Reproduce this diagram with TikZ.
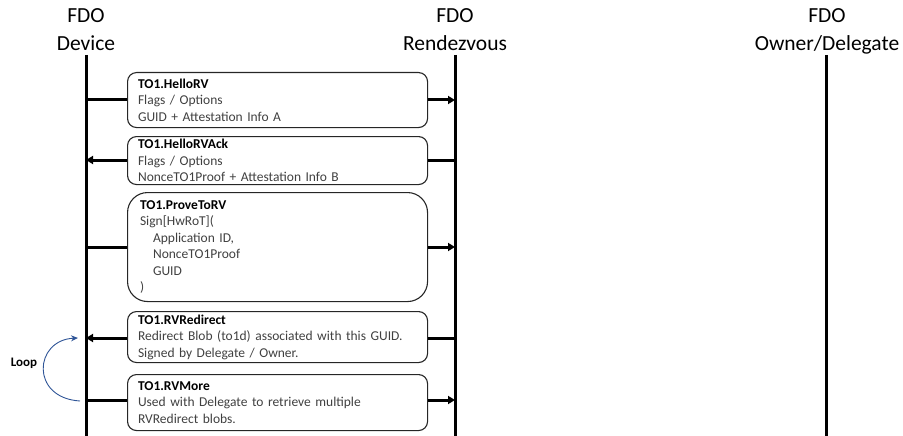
\documentclass[tikz,border=0pt]{standalone}
\usepackage{fontspec}
\setmainfont{Carlito}
\usetikzlibrary{arrows.meta}
\definecolor{bodytxt}{HTML}{404040}
\definecolor{loopblue}{HTML}{2F5597}
\begin{document}
\begin{tikzpicture}[x=1pt,y=-1pt,
  hdr/.style={align=center,anchor=north,inner sep=0pt,font=\fontsize{21.5}{28}\selectfont},
  life/.style={line width=3pt},
  msg/.style={draw=black!85,line width=1.1pt,rounded corners=9pt,
    minimum width=300pt,anchor=north west,text width=279pt,align=left,
    inner xsep=10.5pt,inner ysep=0pt,text=bodytxt,
    font=\fontsize{13.5}{16.5}\selectfont},
  flow/.style={line width=3pt,-{Triangle[length=7pt,width=8pt]}},
  plain/.style={line width=3pt}]
\useasboundingbox (0,0) rectangle (903,436);

% participants
\node[hdr] (dev) at (86,3) {FDO\strut\\Device\strut};
\node[hdr] (rv)  at (455,3) {FDO\strut\\Rendezvous\strut};
\node[hdr] (own) at (827,3) {FDO\strut\\Owner/Delegate\strut};

\coordinate (devT) at (86,55);  \coordinate (devB) at (86,436);
\coordinate (rvT)  at (455,55); \coordinate (rvB)  at (455,436);
\coordinate (ownT) at (826,55); \coordinate (ownB) at (826,436);
\draw[life] (devT) -- (devB);
\draw[life] (rvT) -- (rvB);
\draw[life] (ownT) -- (ownB);

% messages
\node[msg,minimum height=55pt] (m1) at (127,72)
  {\textcolor{black}{\textbf{TO1.HelloRV}}\\Flags / Options\\GUID + Attestation Info A};
\node[msg,minimum height=48pt] (m2) at (127,136)
  {\textcolor{black}{\textbf{TO1.HelloRVAck}}\\Flags / Options\\NonceTO1Proof + Attestation Info B};
\node[msg,minimum height=109pt,rounded corners=20pt] (m3) at (127,192)
  {\textcolor{black}{\textbf{\hspace*{2pt}TO1.ProveToRV}}\\\hspace*{2pt}Sign[HwRoT](\\\hspace*{15pt}Application ID,\\\hspace*{15pt}NonceTO1Proof\\\hspace*{15pt}GUID\\\hspace*{2pt})};
\node[msg,minimum height=51pt] (m4) at (127,311)
  {\textcolor{black}{\textbf{TO1.RVRedirect}}\\Redirect Blob (to1d) associated with this GUID.\\Signed by Delegate / Owner.};
\node[msg,minimum height=56pt] (m5) at (127,374)
  {\textcolor{black}{\textbf{TO1.RVMore}}\\Used with Delegate to retrieve multiple\\RVRedirect blobs.};

% anchor points on the lifelines
\coordinate (d1) at (86,100);  \coordinate (r1) at (455,100);
\coordinate (d2) at (86,160);  \coordinate (r2) at (455,160);
\coordinate (d3) at (86,247);  \coordinate (r3) at (455,247);
\coordinate (d4) at (86,338);  \coordinate (r4) at (455,338);
\coordinate (d5) at (86,400);  \coordinate (r5) at (455,400);

\draw[plain] (d1) -- (m1.west |- d1);
\draw[flow] (m1.east |- r1) -- (r1);
\draw[plain] (r2) -- (m2.east |- r2);
\draw[flow] (m2.west |- d2) -- (d2);
\draw[plain] (d3) -- (m3.west |- d3);
\draw[flow] (m3.east |- r3) -- (r3);
\draw[plain] (r4) -- (m4.east |- r4);
\draw[flow] (m4.west |- d4) -- (d4);
\draw[plain] (d5) -- (m5.west |- d5);
\draw[flow] (m5.east |- r5) -- (r5);

% loop indicator
\coordinate (loopS) at (80,401);
\coordinate (loopE) at (78,338);
\draw[loopblue,line width=0.9pt,-{Stealth[length=7pt,width=6pt]}]
  (loopS) .. controls (30,398) and (34,340) .. (loopE);
\node[font=\bfseries\fontsize{13}{15}\selectfont] (loop) at (24,363) {Loop};
\end{tikzpicture}
\end{document}
